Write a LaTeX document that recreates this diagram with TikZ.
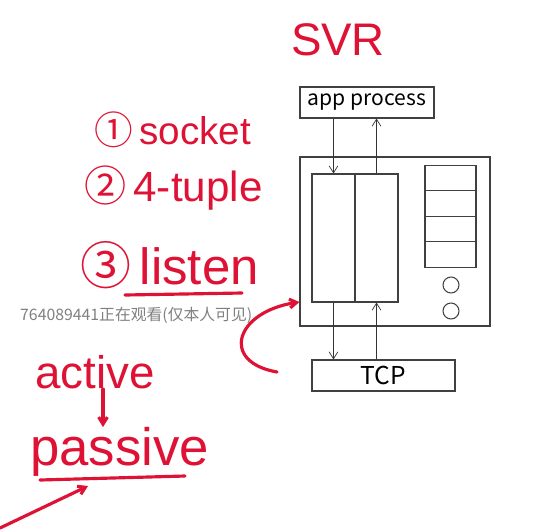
\documentclass[tikz,border=0pt]{standalone}
\usepackage{fontspec}
\setmainfont{Liberation Sans}
\newfontfamily\cjk{Noto Sans CJK SC}
\usetikzlibrary{arrows.meta, positioning}
\definecolor{pen}{RGB}{222,18,52}

\begin{document}
\begin{tikzpicture}[
    x=0.02cm, y=-0.02cm, % one unit = one pixel of the sketch
    >={Straight Barb[length=4pt, width=5pt]}, % Set default arrow tip style
    box/.style={draw=black!75, line width=0.6pt, inner sep=0pt}, % Style for the boxes
    ink/.style={pen, line width=1.8pt, line cap=round}, % Style for red pen strokes
    inktext/.style={pen, font=\fontsize{24}{26}\selectfont, inner sep=0pt} % Style for red handwriting
]

    % Canvas
    \useasboundingbox (0,0) rectangle (537,531);

    % Server boxes
    \node[box, minimum width=2.68cm, minimum height=0.62cm, font=\cjk\fontsize{12}{13}\selectfont] (app) at (367,102.5) {app process};
    \node[box, minimum width=3.8cm, minimum height=3.38cm] (host) at (395,241.5) {};
    \node[box, minimum width=0.86cm, minimum height=2.56cm] (sockL) at (333.5,238) {};
    \node[box, minimum width=0.86cm, minimum height=2.56cm] (sockR) at (376.5,238) {};
    \node[box, minimum width=2.86cm, minimum height=0.62cm, font=\cjk\fontsize{14}{15}\selectfont] (tcp) at (383.5,375.5) {TCP};

    % Stack of cells and two round slots
    \foreach \i/\y in {1/178, 2/203.5, 3/229, 4/254.5}
        \node[box, minimum width=1.02cm, minimum height=0.51cm] (cell\i) at (450.5,\y) {};
    \node[box, circle, minimum size=0.32cm] (slotA) at (451,285) {};
    \node[box, circle, minimum size=0.32cm] (slotB) at (451,311) {};

    % Data paths
    \draw[->, black!80] (app.south -| sockL.north) -- (sockL.north);
    \draw[->, black!80] (sockR.north) -- (app.south -| sockR.north);
    \draw[->, black!80] (sockL.south) -- (tcp.north -| sockL.south);
    \draw[->, black!80] (tcp.north -| sockR.south) -- (sockR.south);

    % Red notes
    \node[inktext, font=\fontsize{26}{28}\selectfont] (svr) at (338,40) {SVR};
    \node[inktext, anchor=west, font=\fontsize{22}{24}\selectfont] (step1) at (94,130) {{\cjk ①}\,socket};
    \node[inktext, anchor=west] (step2) at (84,188) {{\cjk ②}\,4-tuple};
    \node[inktext, anchor=west, font=\fontsize{29}{31}\selectfont] (step3) at (80,265) {{\cjk ③}\,listen};
    \coordinate (ulA) at (125,295);
    \coordinate (ulB) at (242,293);
    \draw[ink] (ulA) -- (ulB);

    \node[inktext, anchor=west, font=\fontsize{26}{28}\selectfont] (active) at (35,372) {active};
    \node[inktext, anchor=west, font=\fontsize{30}{32}\selectfont] (passive) at (30,452) {passive};
    \draw[ink, ->] (active.south -| 103,0) -- (passive.north -| 103,0);
    \coordinate (ulC) at (40,480);
    \coordinate (ulD) at (185,476);
    \draw[ink] (ulC) -- (ulD);

    % Red pointers
    \coordinate (tailA) at (277,372);
    \draw[ink, ->] (tailA) .. controls (220,362) and (235,312) .. (host.south west |- 0,302);
    \coordinate (tailB) at (0,528);
    \coordinate (tipB) at (88,486);
    \draw[ink, ->] (tailB) -- (tipB);

    % Viewer watermark
    \node[anchor=west, gray, font=\cjk\fontsize{9}{10}\selectfont] (mark) at (14,315) {764089441正在观看(仅本人可见)};

\end{tikzpicture}
\end{document}
